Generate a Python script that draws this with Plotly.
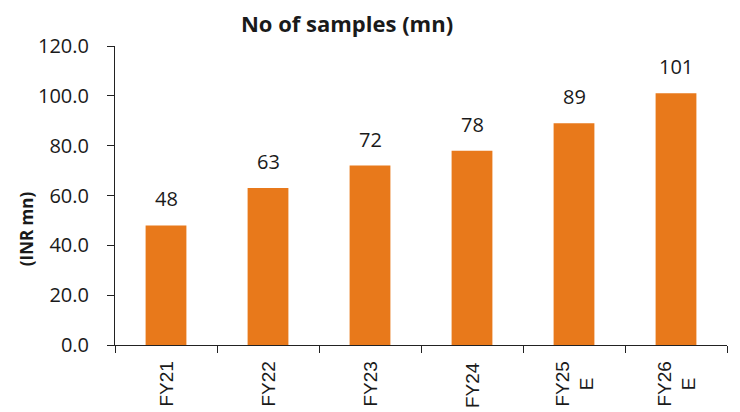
import plotly.graph_objects as go

# Sample volumes by fiscal year (mn)
categories = ["FY21", "FY22", "FY23", "FY24", "FY25 E", "FY26 E"]
category_text = ["FY21", "FY22", "FY23", "FY24", "FY25<br>E", "FY26<br>E"]
samples = [48, 63, 72, 78, 89, 101]
value_labels = ["48", "63", "72", "78", "89", "101"]
y_ticks = [0, 20, 40, 60, 80, 100, 120]
y_tick_text = ["0.0", "20.0", "40.0", "60.0", "80.0", "100.0", "120.0"]

bar_color = "#E8791B"
text_color = "#1a1a1a"
main_font = "'Open Sans', Lato, sans-serif"
cat_font = "'Liberation Sans', Arial, sans-serif"

fig = go.Figure(
    go.Bar(
        x=categories,
        y=samples,
        marker=dict(color=bar_color, line=dict(width=0)),
        width=0.4,
        hoverinfo="skip",
    )
)

# value labels above each bar
for cat, val, txt in zip(categories, samples, value_labels):
    fig.add_annotation(
        x=cat, y=val, text=txt, showarrow=False,
        yanchor="bottom", yshift=11,
        font=dict(family=main_font, size=20, color=text_color),
    )

# rotated category labels, lines centred on each other
for cat, txt in zip(categories, category_text):
    fig.add_annotation(
        x=cat, xref="x", y=0, yref="paper", text=txt, showarrow=False,
        textangle=-90, align="center",
        xanchor="center", yanchor="top", yshift=-15,
        font=dict(family=cat_font, size=19, color=text_color),
    )

# vertical axis caption
fig.add_annotation(
    xref="paper", yref="paper", x=-0.144, y=0.39,
    text="<b>(INR mn)</b>", textangle=-90, showarrow=False,
    xanchor="center", yanchor="middle",
    font=dict(family=main_font, size=17, color=text_color),
)

fig.update_layout(
    width=740, height=412,
    margin=dict(l=115, r=13, t=46, b=67),
    paper_bgcolor="white", plot_bgcolor="white",
    showlegend=False,
    title=dict(
        text="<b>No of samples (mn)</b>",
        x=0.469, xanchor="center", y=0.942, yanchor="middle",
        font=dict(family=main_font, size=22, color=text_color),
    ),
    xaxis=dict(
        type="category", automargin=False,
        showline=True, linecolor="#222", linewidth=1,
        ticks="outside", tickson="boundaries", ticklen=7, tickcolor="#222",
        showticklabels=False,
        showgrid=False,
    ),
    yaxis=dict(
        range=[0, 120], automargin=False,
        tickvals=y_ticks, ticktext=y_tick_text,
        showline=True, linecolor="#222", linewidth=1,
        ticks="outside", ticklen=7, tickcolor="#222",
        ticklabelstandoff=14,
        tickfont=dict(family=main_font, size=20, color=text_color),
        showgrid=False, zeroline=False,
    ),
)

fig.write_html("out.html")
